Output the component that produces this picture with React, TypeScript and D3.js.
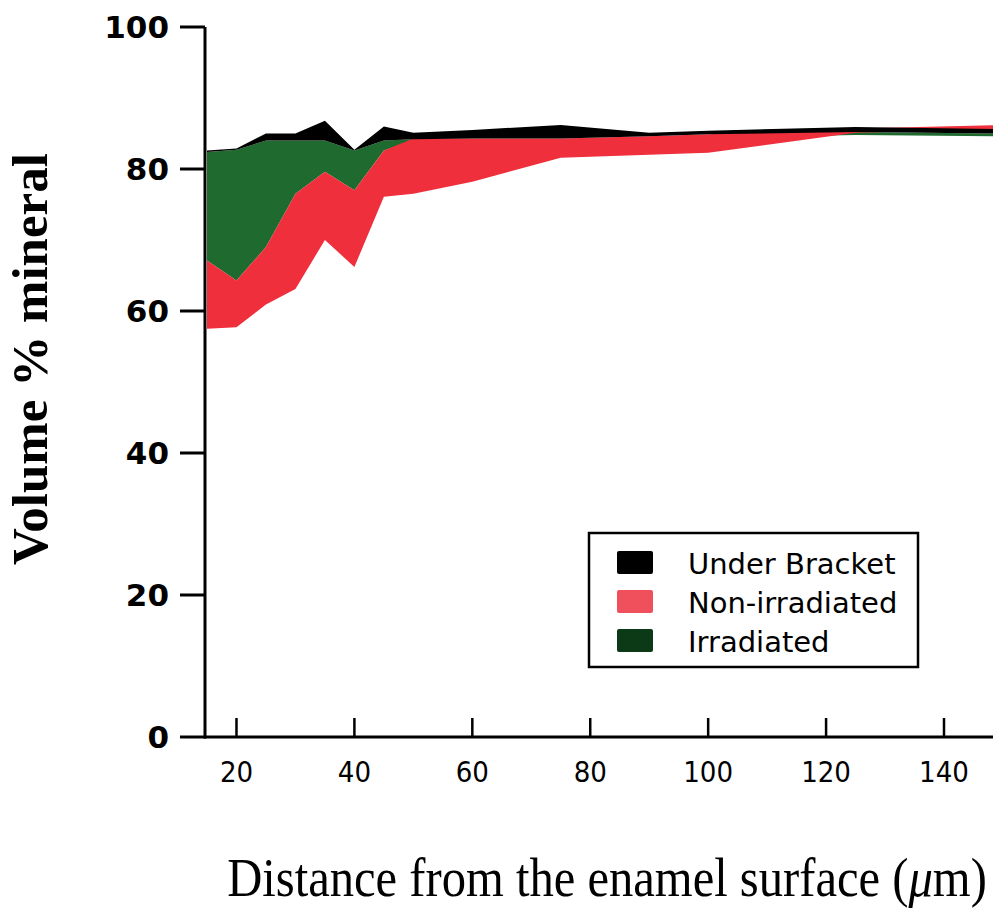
import * as d3 from 'd3';
import React, { useEffect, useRef } from 'react';

// distance from enamel surface (µm)
const distance = [15, 20, 25, 30, 35, 40, 45, 50, 60, 75, 90, 100, 125, 150];

// each band is low/high volume % mineral
const irradiatedLow = [67.1, 64.3, 69.0, 76.5, 79.6, 77.0, 82.6, 84.0, 84.0, 84.0, 84.2, 84.4, 84.8, 84.6];
const irradiatedHigh = [82.4, 82.7, 84.0, 84.0, 84.0, 82.6, 84.0, 84.2, 84.2, 84.2, 84.4, 84.6, 85.2, 85.0];
const nonIrrLow = [57.5, 57.7, 60.9, 63.1, 70.0, 66.2, 76.1, 76.5, 78.2, 81.6, 82.0, 82.3, 85.1, 85.6];
const nonIrrHigh = [67.1, 64.3, 69.0, 76.5, 79.6, 77.0, 82.6, 84.3, 84.3, 84.3, 84.6, 84.9, 85.7, 86.2];
const bracketLow = [82.4, 82.7, 84.0, 84.0, 84.0, 82.6, 84.0, 84.2, 84.3, 84.3, 84.6, 84.9, 85.2, 85.0];
const bracketHigh = [82.6, 82.9, 85.0, 85.0, 86.8, 82.7, 86.0, 85.1, 85.5, 86.2, 85.1, 85.4, 85.9, 85.6];

const xTicks = [20, 40, 60, 80, 100, 120, 140];
const yTicks = [0, 20, 40, 60, 80, 100];

const legendItems = [
  { label: 'Under Bracket', color: '#000000' },
  { label: 'Non-irradiated', color: '#f0505c' },
  { label: 'Irradiated', color: '#0c3a16' },
];

const W = 993;
const H = 916;

const Chart = () => {
  const ref = useRef<SVGSVGElement>(null);

  useEffect(() => {
    const svg = d3.select(ref.current);
    svg.selectAll('*').remove();

    const x = d3.scaleLinear().domain([15, 140]).range([207, 944]);
    const y = d3.scaleLinear().domain([0, 100]).range([737, 27]);

    const band = (lo: number[], hi: number[]) =>
      d3
        .area<number>()
        .x((d) => x(d))
        .y0((_, i) => y(lo[i]))
        .y1((_, i) => y(hi[i]))(distance);

    // order matters: green under red under black
    svg.append('path').attr('d', band(irradiatedLow, irradiatedHigh)).attr('fill', '#1f6a2f');
    svg.append('path').attr('d', band(nonIrrLow, nonIrrHigh)).attr('fill', '#ef2f3b');
    svg.append('path').attr('d', band(bracketLow, bracketHigh)).attr('fill', '#000');

    // y axis
    const yAxis = svg.append('g');
    yAxis
      .append('line')
      .attr('x1', 205)
      .attr('x2', 205)
      .attr('y1', y(100))
      .attr('y2', y(0) + 1.5)
      .attr('stroke', '#000')
      .attr('stroke-width', 3);
    yAxis
      .selectAll('line.tick')
      .data(yTicks)
      .join('line')
      .attr('class', 'tick')
      .attr('x1', 180)
      .attr('x2', 205)
      .attr('y1', (d) => y(d))
      .attr('y2', (d) => y(d))
      .attr('stroke', '#000')
      .attr('stroke-width', 3);
    yAxis
      .selectAll('text')
      .data(yTicks)
      .join('text')
      .attr('x', 169)
      .attr('y', (d) => y(d))
      .attr('dy', '0.36em')
      .attr('text-anchor', 'end')
      .style('font-family', "'DejaVu Sans', sans-serif")
      .style('font-weight', 'bold')
      .style('font-size', '31px')
      .text((d) => d);

    // x axis
    const xAxis = svg.append('g');
    xAxis
      .append('line')
      .attr('x1', 204)
      .attr('x2', W)
      .attr('y1', y(0))
      .attr('y2', y(0))
      .attr('stroke', '#000')
      .attr('stroke-width', 3);
    xAxis
      .selectAll('line.tick')
      .data(xTicks)
      .join('line')
      .attr('class', 'tick')
      .attr('x1', (d) => x(d))
      .attr('x2', (d) => x(d))
      .attr('y1', y(0))
      .attr('y2', y(0) - 19)
      .attr('stroke', '#000')
      .attr('stroke-width', 2.5);
    xAxis
      .selectAll('text')
      .data(xTicks)
      .join('text')
      .attr('x', (d) => x(d))
      .attr('y', 782)
      .attr('text-anchor', 'middle')
      .style('font-family', "'DejaVu Sans Condensed', 'DejaVu Sans', sans-serif")
      .style('font-size', '29px')
      .text((d) => d);

    // axis titles
    svg
      .append('text')
      .attr('transform', 'translate(47,359) rotate(-90)')
      .attr('text-anchor', 'middle')
      .style('font-family', "'Liberation Serif', serif")
      .style('font-weight', 'bold')
      .style('font-size', '51px')
      .text('Volume % mineral');

    // the title glyphs are narrow and tall, so squeeze horizontally
    const xt = svg
      .append('text')
      .attr('transform', 'translate(607,896) scale(0.9,1)')
      .attr('text-anchor', 'middle')
      .style('font-family', "'Liberation Serif', serif")
      .style('font-size', '54px');
    xt.append('tspan').text('Distance from the enamel surface (');
    xt.append('tspan').style('font-style', 'italic').text('μ');
    xt.append('tspan').text('m)');

    // legend
    const lg = svg.append('g');
    lg.append('rect')
      .attr('x', 589)
      .attr('y', 533)
      .attr('width', 329)
      .attr('height', 134)
      .attr('fill', '#fff')
      .attr('stroke', '#000')
      .attr('stroke-width', 2.5);
    const rows = lg
      .selectAll('g.row')
      .data(legendItems)
      .join('g')
      .attr('class', 'row')
      .attr('transform', (_, i) => `translate(0,${563 + i * 39})`);
    rows
      .append('rect')
      .attr('x', 617)
      .attr('y', -12)
      .attr('width', 36)
      .attr('height', 23)
      .attr('rx', 2)
      .attr('fill', (d) => d.color);
    rows
      .append('text')
      .attr('x', 688)
      .attr('y', 11)
      .style('font-family', "'DejaVu Sans', sans-serif")
      .style('font-size', '29px')
      .text((d) => d.label);
  }, []);

  return (
    <svg
      ref={ref}
      width={W}
      height={H}
      style={{ position: 'absolute', left: 0, top: 0, background: '#fff' }}
    />
  );
};

export default function App() {
  return <Chart />;
}
